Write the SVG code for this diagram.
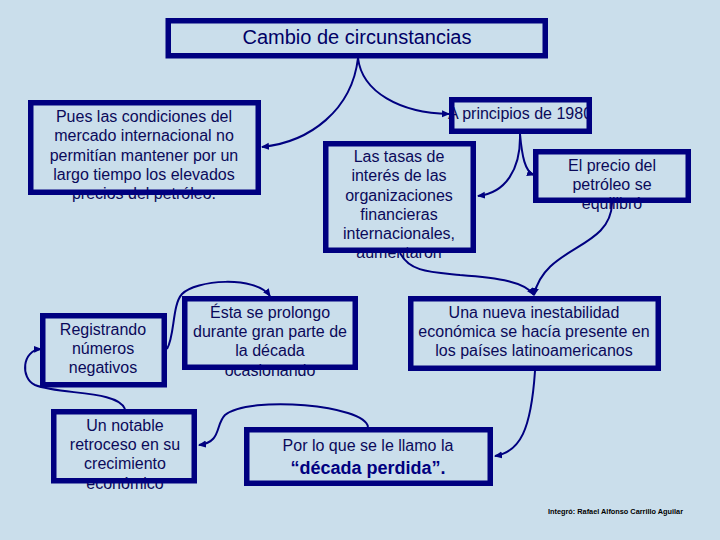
<svg xmlns="http://www.w3.org/2000/svg" width="720" height="540" viewBox="0 0 720 540">
<defs>
<marker id="arr" markerWidth="8" markerHeight="8" refX="7" refY="4" orient="auto" markerUnits="userSpaceOnUse">
<path d="M0,0.5 L8,4 L0,7.5 Z" fill="#000080"/>
</marker>
<style>
.box{fill:none;stroke:#000080;stroke-width:5.5}
.t{font-family:"Liberation Sans",Arial,sans-serif;font-size:16px;fill:#0a0a5a;text-anchor:middle}
.title{font-family:"Liberation Sans",Arial,sans-serif;font-size:20px;fill:#000066;text-anchor:middle}
.b{font-family:"Liberation Sans",Arial,sans-serif;font-size:18px;font-weight:bold;fill:#000080;text-anchor:middle}
.c{fill:none;stroke:#000080;stroke-width:2;marker-end:url(#arr)}
.credit{font-family:"Liberation Sans",Arial,sans-serif;font-size:8px;font-weight:bold;fill:#000000}
</style>
</defs>
<rect width="720" height="540" fill="#cadeeb"/>

<g id="connectors">
<path class="c" d="M358,58 C 352,110 310,142 262,147"/>
<path class="c" d="M358,58 C 362,92 400,113 449,114"/>
<path class="c" d="M520,134 C 521,170 505,193 478,196"/>
<path class="c" d="M520,134 C 522,156 525,172 534,175"/>
<path class="c" d="M612,203 C 611,250 545,245 534,295"/>
<path class="c" d="M400,253 C 410,272 430,272 460,275 C 500,278 525,282 534,295"/>
<path class="c" d="M535,371 C 531,430 520,452 495,456"/>
<path class="c" d="M368,427 C 365,405 250,395 225,415 C 215,425 222,442 199,445"/>
<path class="c" d="M125,409 C 118,390 60,395 35,385 C 20,378 22,350 41,349"/>
<path class="c" d="M167,349 C 175,335 172,305 182,294 C 195,280 255,275 270,296"/>
</g>

<g id="n-title">
<text class="title" x="357" y="44">Cambio de circunstancias</text>
<rect class="box" x="168.25" y="20.75" width="377" height="35"/>
</g>

<g id="n-pues">
<text class="t" x="144" y="122">Pues las condiciones del</text>
<text class="t" x="144" y="141">mercado internacional no</text>
<text class="t" x="144" y="160.5">permitían mantener por un</text>
<text class="t" x="144" y="180">largo tiempo los elevados</text>
<text class="t" x="144" y="199">precios del petróleo.</text>
<rect class="box" x="30.75" y="102.75" width="227.5" height="89.5"/>
</g>

<g id="n-principios">
<text class="t" x="520" y="118.5">A principios de 1980</text>
<rect class="box" x="451.75" y="99.75" width="137.5" height="31.5"/>
</g>

<g id="n-tasas">
<text class="t" x="399" y="162">Las tasas de</text>
<text class="t" x="399" y="181">interés de las</text>
<text class="t" x="399" y="200.5">organizaciones</text>
<text class="t" x="399" y="219.5">financieras</text>
<text class="t" x="399" y="238.5">internacionales,</text>
<text class="t" x="399" y="258">aumentaron</text>
<rect class="box" x="325.75" y="143.75" width="147.5" height="106.5"/>
</g>

<g id="n-precio">
<text class="t" x="612" y="170.5">El precio del</text>
<text class="t" x="612" y="189.5">petróleo se</text>
<text class="t" x="612" y="208.5">equilibró</text>
<rect class="box" x="535.75" y="151.75" width="152.5" height="48.5"/>
</g>

<g id="n-registrando">
<text class="t" x="103" y="335">Registrando</text>
<text class="t" x="103" y="354">números</text>
<text class="t" x="103" y="373">negativos</text>
<rect class="box" x="42.75" y="315.75" width="121.5" height="69"/>
</g>

<g id="n-esta">
<text class="t" x="270" y="317.5">Ésta se prolongo</text>
<text class="t" x="270" y="337">durante gran parte de</text>
<text class="t" x="270" y="356">la década</text>
<text class="t" x="270" y="375.5">ocasionando</text>
<rect class="box" x="184.75" y="298.75" width="170.5" height="68.5"/>
</g>

<g id="n-nueva">
<text class="t" x="534" y="317.5">Una nueva inestabilidad</text>
<text class="t" x="534" y="337">económica se hacía presente en</text>
<text class="t" x="534" y="356">los países latinoamericanos</text>
<rect class="box" x="410.75" y="298.75" width="247.5" height="69.5"/>
</g>

<g id="n-notable">
<text class="t" x="125" y="431">Un notable</text>
<text class="t" x="125" y="450">retroceso en su</text>
<text class="t" x="125" y="469">crecimiento</text>
<text class="t" x="125" y="488.5">económico</text>
<rect class="box" x="53.75" y="411.75" width="140.5" height="69"/>
</g>

<g id="n-perdida">
<text class="t" x="368" y="451">Por lo que se le llamo la</text>
<text class="b" x="368" y="474">“década perdida”.</text>
<rect class="box" x="246.75" y="429.75" width="243.5" height="53.5"/>
</g>

<text class="credit" x="548" y="514" textLength="135" lengthAdjust="spacingAndGlyphs">Integró: Rafael Alfonso Carrillo Aguilar</text>
</svg>
